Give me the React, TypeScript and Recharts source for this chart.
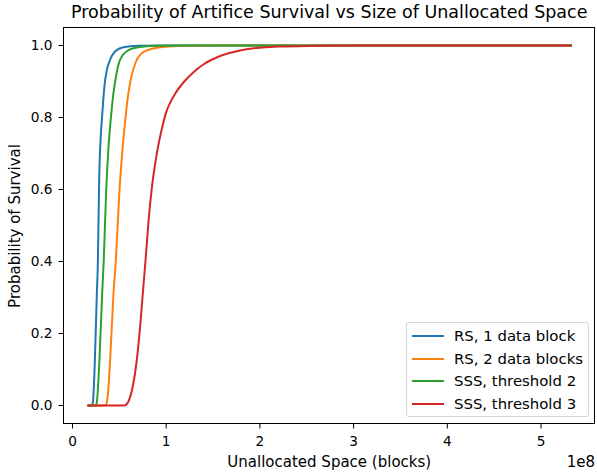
import { LineChart, Line, XAxis, YAxis } from "recharts";

// x values are in units of 1e8 blocks (matches the "1e8" offset on the axis)
const rs1X = [0.16, 0.205, 0.218, 0.239, 0.26, 0.271, 0.278, 0.285, 0.3, 0.318, 0.34, 0.365, 0.395, 0.456, 0.544, 0.7, 1.0, 5.33];
const rs1Y = [0, 0, 0.01, 0.128, 0.313, 0.4, 0.52, 0.63, 0.74, 0.81, 0.885, 0.93, 0.956, 0.984, 0.995, 0.999, 1, 1];

const rs2X = [0.16, 0.355, 0.367, 0.385, 0.402, 0.438, 0.462, 0.502, 0.53, 0.56, 0.59, 0.625, 0.67, 0.76, 0.94, 1.2, 1.5, 5.33];
const rs2Y = [0, 0, 0.01, 0.054, 0.128, 0.313, 0.4, 0.6, 0.7, 0.785, 0.855, 0.91, 0.95, 0.982, 0.995, 0.999, 1, 1];

const sss2X = [0.16, 0.25, 0.26, 0.288, 0.317, 0.333, 0.36, 0.385, 0.41, 0.438, 0.465, 0.5, 0.58, 0.7, 0.9, 1.2, 5.33];
const sss2Y = [0, 0, 0.01, 0.128, 0.313, 0.4, 0.6, 0.72, 0.8, 0.87, 0.915, 0.955, 0.984, 0.995, 0.999, 1, 1];

const sss3X = [0.16, 0.55, 0.598, 0.644, 0.687, 0.722, 0.751, 0.78, 0.811, 0.847, 0.9, 0.955, 1.0, 1.05, 1.1, 1.2, 1.3, 1.4, 1.55, 1.8, 2.2, 2.6, 3.0, 5.33];
const sss3Y = [0, 0, 0.012, 0.054, 0.128, 0.22, 0.313, 0.405, 0.51, 0.605, 0.7, 0.77, 0.815, 0.845, 0.868, 0.902, 0.928, 0.948, 0.968, 0.987, 0.997, 0.999, 1, 1];

const xTicks = [0, 1, 2, 3, 4, 5];
const yTicks = [0, 0.2, 0.4, 0.6, 0.8, 1.0];

const series = [
  { name: "RS, 1 data block", color: "#1f77b4", x: rs1X, y: rs1Y },
  { name: "RS, 2 data blocks", color: "#ff7f0e", x: rs2X, y: rs2Y },
  { name: "SSS, threshold 2", color: "#2ca02c", x: sss2X, y: sss2Y },
  { name: "SSS, threshold 3", color: "#d62728", x: sss3X, y: sss3Y },
];

const FONT = "'DejaVu Sans', sans-serif";
const X_DOMAIN: [number, number] = [-0.096, 5.576];
const Y_DOMAIN: [number, number] = [-0.05, 1.05];

function LegendBox() {
  return (
    <div
      style={{
        position: "absolute",
        left: 406,
        top: 322,
        width: 183,
        height: 95,
        boxSizing: "border-box",
        border: "1px solid #d6d6d6",
        borderRadius: 3,
        background: "rgba(255,255,255,0.8)",
        padding: "2px 0 0 5px",
        fontSize: 14.9,
        color: "#000",
        whiteSpace: "nowrap",
      }}
    >
      {series.map((s) => (
        <div key={s.name} style={{ display: "flex", alignItems: "center", height: 22.6 }}>
          <span style={{ display: "inline-block", width: 32, height: 2, background: s.color, marginRight: 10 }} />
          <span>{s.name}</span>
        </div>
      ))}
    </div>
  );
}

export default function App() {
  return (
    <div style={{ position: "absolute", left: 0, top: 0, width: 597, height: 472, background: "#fff", fontFamily: FONT }}>
      <div style={{ position: "absolute", left: 63.5, width: 531.5, top: 3.5, textAlign: "center", fontSize: 17.5, lineHeight: "17.5px", color: "#000", whiteSpace: "nowrap" }}>
        Probability of Artifice Survival vs Size of Unallocated Space
      </div>
      <LineChart width={597} height={472} margin={{ top: 27.5, right: 2, bottom: 0, left: 0 }}>
        <XAxis
          type="number"
          dataKey="x"
          domain={X_DOMAIN}
          ticks={xTicks}
          allowDataOverflow
          height={48.5}
          tickSize={5}
          tickMargin={8}
          stroke="#000"
          tick={{ fill: "#000", fontSize: 13.7, fontFamily: FONT }}
          tickFormatter={(v: number) => String(v)}
        />
        <YAxis
          type="number"
          domain={Y_DOMAIN}
          ticks={yTicks}
          allowDataOverflow
          width={63.5}
          tickSize={5}
          tickMargin={6}
          stroke="#000"
          tick={{ fill: "#000", fontSize: 13.7, fontFamily: FONT }}
          tickFormatter={(v: number) => v.toFixed(1)}
        />
        {series.map((s) => (
          <Line
            key={s.name}
            data={s.x.map((x, i) => ({ x, y: s.y[i] }))}
            dataKey="y"
            name={s.name}
            type="monotone"
            stroke={s.color}
            strokeWidth={2}
            dot={false}
            isAnimationActive={false}
          />
        ))}
      </LineChart>
      {/* axes frame (top and right spines) */}
      <div style={{ position: "absolute", left: 63, top: 27, width: 532, height: 397, boxSizing: "border-box", border: "1px solid #000", pointerEvents: "none" }} />
      <LegendBox />
      <div style={{ position: "absolute", left: 15, top: 226, transform: "translate(-50%, -50%) rotate(-90deg)", whiteSpace: "nowrap", fontSize: 15, lineHeight: "15px", color: "#000" }}>
        Probability of Survival
      </div>
      <div style={{ position: "absolute", left: 63.5, width: 531.5, top: 455, textAlign: "center", fontSize: 15, lineHeight: "15px", color: "#000", whiteSpace: "nowrap" }}>
        Unallocated Space (blocks)
      </div>
      <div style={{ position: "absolute", right: 2, top: 455, fontSize: 15, lineHeight: "15px", color: "#000" }}>1e8</div>
    </div>
  );
}
